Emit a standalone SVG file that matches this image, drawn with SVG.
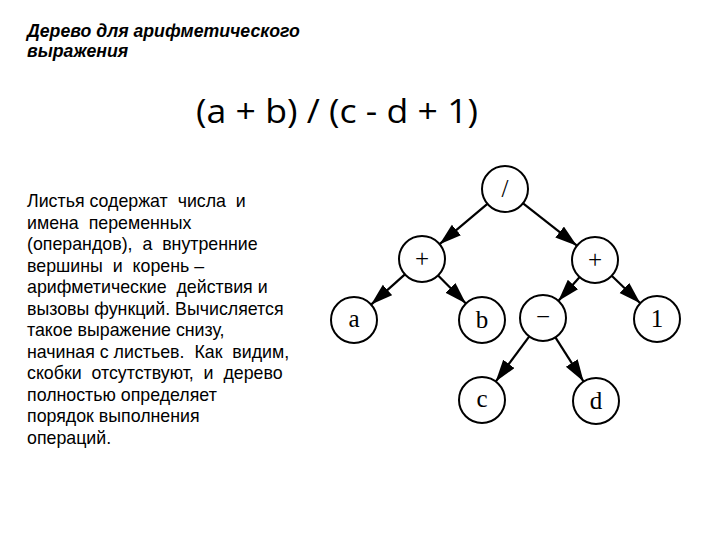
<svg xmlns="http://www.w3.org/2000/svg" width="720" height="540" viewBox="0 0 720 540" xml:space="preserve">
<style>
.h{font-family:"Liberation Sans",Arial,sans-serif;font-size:17.7px;font-weight:bold;font-style:italic;fill:#000}
.f{font-family:"Open Sans","Liberation Sans",sans-serif;font-size:33px;fill:#000}
.t text{font-family:"Liberation Sans",Arial,sans-serif;font-size:17.8px;fill:#000;white-space:pre}
.n circle{fill:#fff;stroke:#000;stroke-width:2}
.n text{font-family:"Liberation Serif","Times New Roman",serif;font-size:25px;text-anchor:middle;fill:#000}
.e line{stroke:#000;stroke-width:2.2;marker-end:url(#ah)}
</style>
<defs>
<marker id="ah" markerUnits="userSpaceOnUse" markerWidth="24" markerHeight="16" refX="22" refY="7" orient="auto">
<path d="M0,0 L22,7 L0,14 z" fill="#000"/>
</marker>
</defs>
<rect width="720" height="540" fill="#fff"/>
<text class="h" x="27" y="37">Дерево для арифметического</text>
<text class="h" x="27" y="57">выражения</text>
<text class="f" x="196" y="123" textLength="282" lengthAdjust="spacingAndGlyphs">(a + b) / (c - d + 1)</text>
<g id="desc" class="t">
<text x="27" y="207">Листья содержат  числа  и</text>
<text x="27" y="228.5">имена  переменных</text>
<text x="27" y="250">(операндов),  а  внутренние</text>
<text x="27" y="271.5">вершины  и  корень –</text>
<text x="27" y="293">арифметические  действия и</text>
<text x="27" y="314.5">вызовы функций. Вычисляется</text>
<text x="27" y="336">такое выражение снизу,</text>
<text x="27" y="357.5">начиная с листьев.  Как  видим,</text>
<text x="27" y="379">скобки  отсутствуют,  и  дерево</text>
<text x="27" y="400.5">полностью определяет</text>
<text x="27" y="422">порядок выполнения</text>
<text x="27" y="443.5">операций.</text>
</g>
<g id="edges" class="e">
<line x1="487.4" y1="203.8" x2="439.6" y2="244.2"/>
<line x1="523.1" y1="203.3" x2="576.9" y2="245.7"/>
<line x1="404.9" y1="274.4" x2="371.1" y2="304.6"/>
<line x1="438.1" y1="275.4" x2="465.9" y2="303.6"/>
<line x1="579.7" y1="277.1" x2="558.3" y2="300.9"/>
<line x1="611.7" y1="275.8" x2="640.3" y2="303.2"/>
<line x1="529.3" y1="336.4" x2="495.7" y2="381.6"/>
<line x1="555.4" y1="337.4" x2="583.6" y2="381.6"/>
</g>
<g id="root" class="n"><circle cx="505" cy="189" r="23"/><text x="505" y="197">/</text></g>
<g id="plusL" class="n"><circle cx="422" cy="259" r="23"/><text x="422" y="267">+</text></g>
<g id="plusR" class="n"><circle cx="595" cy="260" r="23"/><text x="595" y="268">+</text></g>
<g id="a" class="n"><circle cx="354" cy="320" r="23"/><text x="354" y="327">a</text></g>
<g id="b" class="n"><circle cx="482" cy="320" r="23"/><text x="482" y="328">b</text></g>
<g id="minus" class="n"><circle cx="543" cy="318" r="23"/><text x="543" y="325">−</text></g>
<g id="one" class="n"><circle cx="657" cy="319" r="23"/><text x="657" y="327">1</text></g>
<g id="c" class="n"><circle cx="482" cy="400" r="23"/><text x="482" y="407">c</text></g>
<g id="d" class="n"><circle cx="596" cy="401" r="23"/><text x="596" y="409">d</text></g>
</svg>
